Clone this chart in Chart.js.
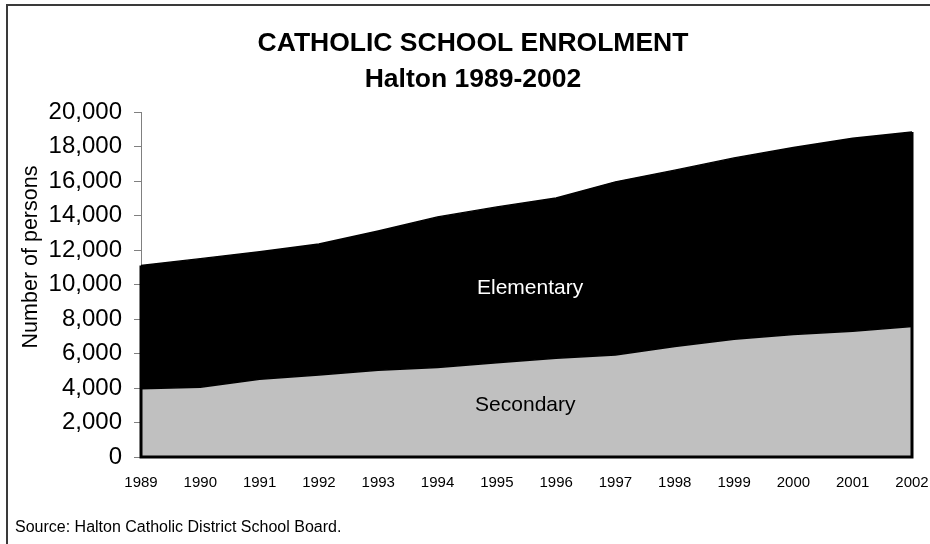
<!DOCTYPE html>
<html>
<head>
<meta charset="utf-8">
<title>Catholic School Enrolment, Halton 1989-2002</title>
<script src="https://cdn.jsdelivr.net/npm/chart.js@4/dist/chart.umd.min.js"></script>
<style>
  html, body { margin: 0; padding: 0; background: #ffffff; }
  #wrap { position: relative; width: 930px; height: 544px; }
</style>
</head>
<body>
<div id="wrap"><canvas id="enrolment" width="930" height="544"></canvas></div>
<script>
// Enrolment by school year (persons)
const years = ['1989', '1990', '1991', '1992', '1993', '1994', '1995',
               '1996', '1997', '1998', '1999', '2000', '2001', '2002'];
const secondary  = [3950, 4050, 4500, 4750, 5030, 5190, 5470,
                    5730, 5920, 6400, 6830, 7100, 7290, 7560];
const elementary = [7150, 7450, 7400, 7600, 8070, 8730, 9030,
                    9290, 10030, 10230, 10510, 10840, 11190, 11280];

const seriesNames = ['Secondary', 'Elementary'];
const titleLines = ['CATHOLIC SCHOOL ENROLMENT', 'Halton 1989-2002'];
const yAxisTitle = 'Number of persons';
const sourceNote = 'Source: Halton Catholic District School Board.';
const yMin = 0, yMax = 20000, yStep = 2000;

const FONT = '"Liberation Sans", Arial, Helvetica, sans-serif';

// Frame, area outline, in-area labels, titles and source line
const decorations = {
  id: 'decorations',
  beforeDraw(chart) {
    const ctx = chart.ctx;
    ctx.save();
    ctx.fillStyle = '#ffffff';
    ctx.fillRect(0, 0, chart.width, chart.height);
    ctx.strokeStyle = '#3a3a3a';
    ctx.lineWidth = 2;
    ctx.beginPath();
    ctx.moveTo(7, chart.height);
    ctx.lineTo(7, 5);
    ctx.lineTo(chart.width, 5);
    ctx.stroke();
    ctx.restore();
  },
  afterDatasetsDraw(chart) {
    const ctx = chart.ctx;
    const xs = chart.scales.x, ys = chart.scales.y;
    const last = years.length - 1;
    const x0 = xs.getPixelForValue(0), xN = xs.getPixelForValue(last);
    const yBase = ys.getPixelForValue(0);
    const yFirst = ys.getPixelForValue(secondary[0] + elementary[0]);
    const yLast = ys.getPixelForValue(secondary[last] + elementary[last]);

    ctx.save();
    ctx.strokeStyle = '#000000';
    ctx.lineWidth = 3;
    ctx.lineJoin = 'miter';
    ctx.beginPath();
    ctx.moveTo(x0, yFirst);
    ctx.lineTo(x0, yBase);
    ctx.lineTo(xN, yBase);
    ctx.lineTo(xN, yLast);
    ctx.stroke();

    ctx.textAlign = 'center';
    ctx.textBaseline = 'middle';
    ctx.font = '21px ' + FONT;
    ctx.fillStyle = '#ffffff';
    ctx.fillText(seriesNames[1], xs.getPixelForValue(6.56), ys.getPixelForValue(9800));
    ctx.fillStyle = '#000000';
    ctx.fillText(seriesNames[0], xs.getPixelForValue(6.48), ys.getPixelForValue(3030));
    ctx.restore();
  },
  afterDraw(chart) {
    const ctx = chart.ctx;
    ctx.save();
    ctx.fillStyle = '#000000';
    ctx.textAlign = 'center';
    ctx.textBaseline = 'middle';
    ctx.font = 'bold 26.5px ' + FONT;
    ctx.fillText(titleLines[0], 473, 44);
    ctx.fillText(titleLines[1], 473, 80);

    ctx.font = '21.5px ' + FONT;
    ctx.translate(31, 257);
    ctx.rotate(-Math.PI / 2);
    ctx.fillText(yAxisTitle, 0, 0);
    ctx.restore();

    ctx.save();
    ctx.fillStyle = '#000000';
    ctx.textAlign = 'left';
    ctx.textBaseline = 'middle';
    ctx.font = '16px ' + FONT;
    ctx.fillText(sourceNote, 15, 528);
    ctx.restore();
  }
};

new Chart(document.getElementById('enrolment'), {
  type: 'line',
  data: {
    labels: years,
    datasets: [
      {
        label: seriesNames[0],
        data: secondary,
        backgroundColor: '#c0c0c0',
        borderColor: '#000000',
        borderWidth: 1.5,
        fill: 'origin',
        tension: 0,
        pointRadius: 0,
        pointHoverRadius: 0
      },
      {
        label: seriesNames[1],
        data: elementary,
        backgroundColor: '#000000',
        borderColor: '#000000',
        borderWidth: 1.5,
        fill: '-1',
        tension: 0,
        pointRadius: 0,
        pointHoverRadius: 0
      }
    ]
  },
  options: {
    responsive: false,
    animation: false,
    devicePixelRatio: 1,
    layout: { padding: { top: 112, left: 0, right: 18, bottom: 0 } },
    plugins: {
      legend: { display: false },
      title: { display: false },
      tooltip: { enabled: false }
    },
    scales: {
      x: {
        offset: false,
        grid: { display: false, drawTicks: false },
        border: { display: false },
        ticks: {
          color: '#000000',
          font: { family: FONT, size: 15 },
          padding: 17,
          maxRotation: 0,
          autoSkip: false
        },
        afterFit(scale) {
          scale.height = 87;
          scale.paddingLeft = 0;
          scale.paddingRight = 0;
        }
      },
      y: {
        stacked: true,
        min: yMin,
        max: yMax,
        grid: {
          drawOnChartArea: false,
          drawTicks: true,
          tickLength: 7,
          color: '#808080'
        },
        border: { display: true, color: '#808080', width: 1 },
        ticks: {
          stepSize: yStep,
          color: '#000000',
          font: { family: FONT, size: 24 },
          padding: 12,
          callback: (v) => Number(v).toLocaleString('en-US')
        },
        afterFit(scale) { scale.width = 141; }
      }
    }
  },
  plugins: [decorations]
});
</script>
</body>
</html>
